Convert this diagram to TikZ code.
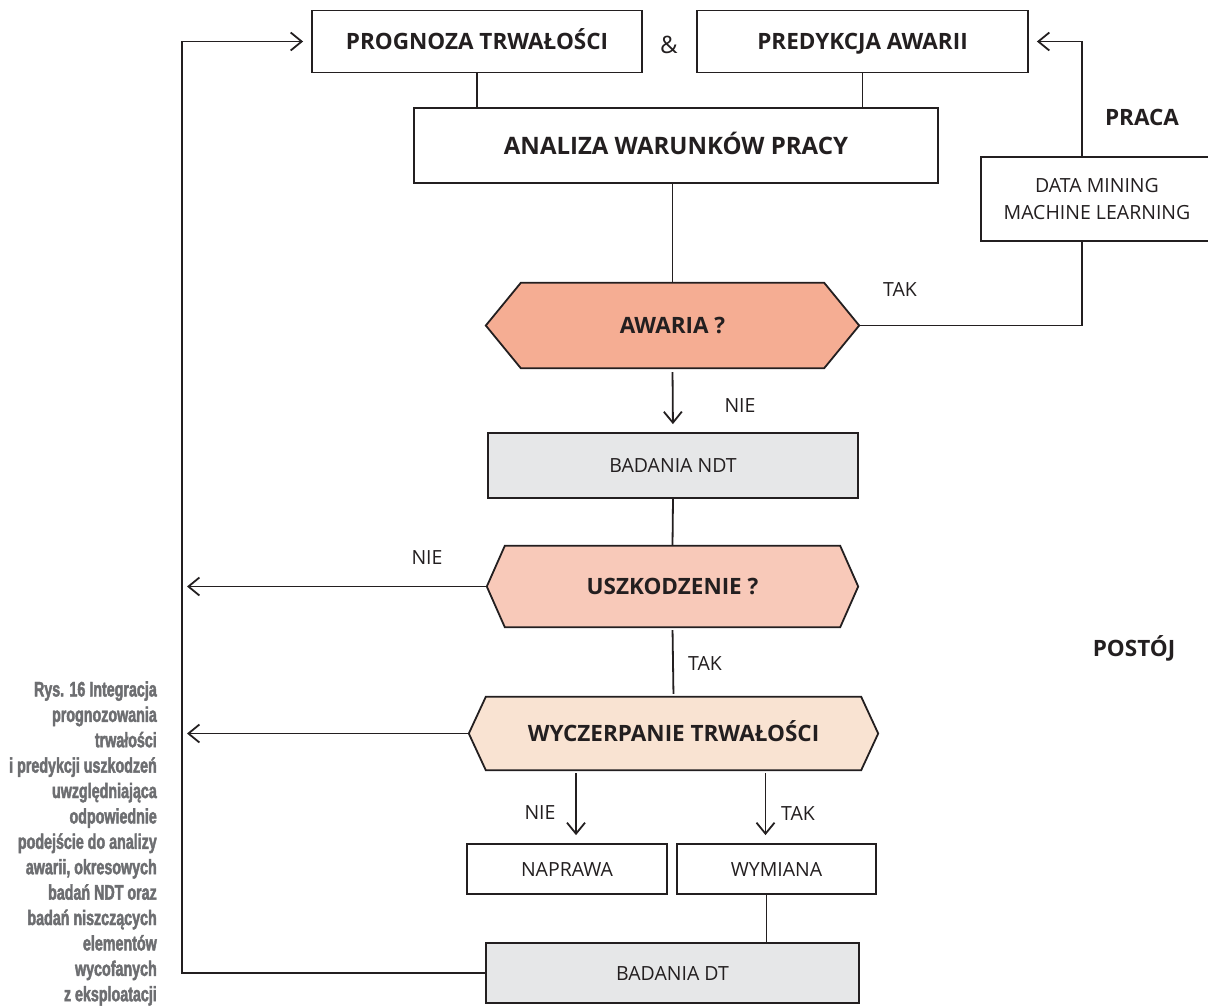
\documentclass[tikz,border=0pt]{standalone}
\usepackage{fontspec}
\setmainfont{Open Sans}
\newfontfamily\capfont[FakeStretch=0.68, BoldFeatures={FakeBold=2}]{Liberation Sans}
\usetikzlibrary{arrows.meta,backgrounds}

\definecolor{ink}{HTML}{231F20}
\definecolor{hexA}{HTML}{F5AD93}
\definecolor{hexB}{HTML}{F8C9B9}
\definecolor{hexC}{HTML}{F9E3D2}
\definecolor{panel}{HTML}{E6E7E8}
\definecolor{captxt}{HTML}{6D6E71}

\tikzset{
  line/.style={draw=ink, line width=1.8pt},
  arr/.style={line, -{Straight Barb[length=11pt,width=18pt,line width=1.8pt]}},
  boldtxt/.style={font=\fontsize{22.5}{27}\selectfont\bfseries, text height=16pt, text depth=0pt},
  regtxt/.style={font=\fontsize{19.5}{27}\selectfont, text height=14pt, text depth=0pt},
  twoline/.style={font=\fontsize{19.5}{27}\selectfont, text height=, text depth=},
  box/.style={line, rectangle, inner sep=0pt, text=ink, align=center},
  hexbox/.style={rectangle, inner sep=0pt, text=ink, boldtxt},
  lbl/.style={inner sep=0pt, text=ink, regtxt},
}

% hexagonal decision outline drawn behind a named node: name, pointer depth, fill
\newcommand\hexoutline[3]{%
  \begin{scope}[on background layer]
    \draw[line, fill=#3] (#1.west) -- ([xshift=#2]#1.north west)
      -- ([xshift=-#2]#1.north east) -- (#1.east)
      -- ([xshift=-#2]#1.south east) -- ([xshift=#2]#1.south west) -- cycle;
  \end{scope}}

\begin{document}
\begin{tikzpicture}[x=1pt, y=-1pt]
\begin{scope}[on background layer]
  \fill[white] (0,0) rectangle (1208,1005);
\end{scope}
\useasboundingbox (0,0) rectangle (1208,1005);

% top row
\node[box, boldtxt, minimum width=330pt, minimum height=62pt] (prog) at (477,41.5) {PROGNOZA TRWAŁOŚCI};
\node[box, boldtxt, minimum width=331pt, minimum height=62pt] (pred) at (862.5,41.5) {PREDYKCJA AWARII};
\node[lbl, font=\fontsize{24}{27}\selectfont] (amp) at (669,46) {\&};
\node[box, boldtxt, font=\fontsize{24}{27}\selectfont\bfseries, text height=17pt, minimum width=524pt, minimum height=75pt] (ana) at (676,145.5) {ANALIZA WARUNKÓW PRACY};
\node[box, twoline, minimum width=232pt, minimum height=84pt] (dm) at (1097,199) {DATA MINING\\MACHINE LEARNING};

% decisions and tests
\node[hexbox, minimum width=373pt, minimum height=85pt] (aw) at (672.5,325.5) {AWARIA ?};
\hexoutline{aw}{35pt}{hexA}
\node[box, regtxt, fill=panel, minimum width=370pt, minimum height=65pt] (ndt) at (673,465.5) {BADANIA NDT};
\node[hexbox, minimum width=371pt, minimum height=81pt] (usz) at (672.5,586.5) {USZKODZENIE ?};
\hexoutline{usz}{18pt}{hexB}
\node[hexbox, minimum width=409pt, minimum height=73pt] (wy) at (673.5,733.5) {WYCZERPANIE TRWAŁOŚCI};
\hexoutline{wy}{17pt}{hexC}
\node[box, regtxt, minimum width=200pt, minimum height=50pt] (nap) at (567,869) {NAPRAWA};
\node[box, regtxt, minimum width=199pt, minimum height=50pt] (wym) at (776.5,869) {WYMIANA};
\node[box, regtxt, fill=panel, minimum width=373pt, minimum height=60pt] (dt) at (672.5,973) {BADANIA DT};

% side labels
\node[lbl, boldtxt] (praca) at (1142,117) {PRACA};
\node[lbl, boldtxt] (postoj) at (1134,648) {POSTÓJ};
\node[lbl] (takA) at (900,289) {TAK};
\node[lbl] (nieA) at (740,405) {NIE};
\node[lbl] (nieB) at (427,557) {NIE};
\node[lbl] (takB) at (705,663) {TAK};
\node[lbl] (nieC) at (540,812) {NIE};
\node[lbl] (takC) at (798,813) {TAK};

% caption
\node[anchor=north east, align=right, inner sep=0pt, text=captxt,
      font=\capfont\bfseries\fontsize{21}{25.4}\selectfont] (cap) at (157,681)
 {Rys. 16 Integracja\\prognozowania\\trwałości\\i predykcji uszkodzeń\\uwzględniająca\\odpowiednie\\podejście do analizy\\awarii, okresowych\\badań NDT oraz\\badań niszczących\\elementów\\wycofanych\\z eksploatacji};

% connectors
\coordinate (fb) at (182,41.5);
\draw[line] (prog.south) -- (prog.south |- ana.north);
\draw[line] (pred.south) -- (pred.south |- ana.north);
\draw[line] (aw.north |- ana.south) -- (aw.north);
\draw[arr, shorten <=4pt, shorten >=8pt] (aw.south) -- (ndt.north);
\draw[line] (ndt.south) -- (usz.north);
\draw[line, shorten <=3pt, shorten >=3pt] (usz.south) -- (wy.north);
\draw[arr, shorten >=5pt] (usz.west) -- (usz.west -| fb);
\draw[arr, shorten >=5pt] (wy.west) -- (wy.west -| fb);
\draw[arr, shorten <=3pt, shorten >=8pt] ([xshift=9pt]nap.north |- wy.south) -- ([xshift=9pt]nap.north);
\draw[arr, shorten <=3pt, shorten >=8pt] ([xshift=-11pt]wym.north |- wy.south) -- ([xshift=-11pt]wym.north);
\draw[line] ([xshift=-10pt]wym.south) -- ([xshift=-10pt]wym.south |- dt.north);
\draw[arr, shorten >=8pt] (dt.west) -| (fb) -- (prog.west);
\draw[line] (aw.east) -| ([xshift=-15pt]dm.south);
\draw[arr, shorten >=8pt] ([xshift=-15pt]dm.north) |- (pred.east);
\end{tikzpicture}
\end{document}
